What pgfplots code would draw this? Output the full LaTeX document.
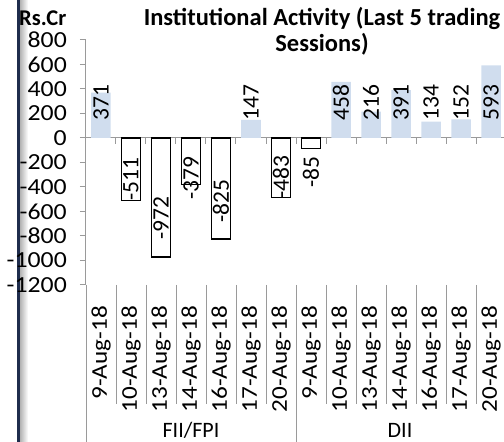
\documentclass[border=0pt]{standalone}
\usepackage{pgfplots}
\pgfplotsset{compat=1.18}
\usepackage{fontspec}
\setmainfont{Carlito}
\newfontfamily\widefont[FakeStretch=1.12]{Carlito}
\definecolor{barblue}{HTML}{D0DDEE}
\definecolor{axgray}{HTML}{9A9A9A}
\definecolor{navy}{HTML}{1F2D4D}
\pgfplotstableread{
x y
0 371
5 147
8 458
9 216
10 391
11 134
12 152
13 593
}\pos
\pgfplotstableread{
x y
1 -511
2 -972
3 -379
4 -825
6 -483
7 -85
}\neg
\begin{document}
\begin{tikzpicture}[x=1pt,y=1pt]
\useasboundingbox (0,0) rectangle (504,442);
\clip (0,0) rectangle (504,442);
\fill[navy] (16.5,0) rectangle (20,442);
\shade[left color=black!30, right color=white] (20,0) rectangle (28,442);
\begin{axis}[
  at={(86pt,157pt)}, anchor=south west,
  scale only axis, width=420pt, height=245pt,
  xmin=-0.5, xmax=13.5, ymin=-1200, ymax=800,
  separate axis lines,
  axis x line*=bottom, axis y line*=left,
  axis line style={-},
  x axis line style={draw=none},
  y axis line style={axgray, line width=1pt},
  xtick={0,...,13},
  xticklabels={9-Aug-18,10-Aug-18,13-Aug-18,14-Aug-18,16-Aug-18,17-Aug-18,20-Aug-18,9-Aug-18,10-Aug-18,13-Aug-18,14-Aug-18,16-Aug-18,17-Aug-18,20-Aug-18},
  major x tick style={draw=none},
  x tick label style={rotate=90, anchor=east, font=\widefont\fontsize{22.5}{24}\selectfont, inner sep=0pt},
  xticklabel shift=15pt,
  ytick={-1200,-1000,...,800},
  yticklabels={-1200,-1000,-800,-600,-400,-200,0,200,400,600,800},
  tick align=outside,
  major tick length=6pt,
  major y tick style={axgray, line width=1pt},
  y tick label style={font=\widefont\fontsize{23}{24}\selectfont, anchor=east, inner sep=0pt},
  yticklabel shift=13pt,
]
\draw[axgray, line width=1pt] (axis cs:-0.5,0) -- (axis cs:13.5,0);
\pgfplotsinvokeforeach{0,...,12}{\draw[axgray, line width=1pt] (axis cs:#1+0.5,0) -- ++(0pt,-6pt);}
\addplot[ybar, bar width=19.5pt, bar shift=0pt, fill=barblue, draw=none] table[x=x,y=y] {\pos};
\addplot[ybar, bar width=19.5pt, bar shift=0pt, fill=white, draw=black, line width=1.2pt] table[x=x,y=y] {\neg};
\begin{scope}[every node/.style={rotate=90, font=\fontsize{23.5}{25}\selectfont, inner sep=0pt}]
\node at (axis cs:0,290) {371};
\node at (axis cs:5,290) {147};
\node at (axis cs:8,290) {458};
\node at (axis cs:9,290) {216};
\node at (axis cs:10,290) {391};
\node at (axis cs:11,290) {134};
\node at (axis cs:12,290) {152};
\node at (axis cs:13,290) {593};
\node at (axis cs:1,-335) {-511};
\node at (axis cs:2,-653) {-972};
\node at (axis cs:3,-330) {-379};
\node at (axis cs:4,-518) {-825};
\node at (axis cs:6,-322) {-483};
\node at (axis cs:7,-278) {-85};
\end{scope}
\end{axis}
% category separators
\draw[axgray, line width=1pt] (86,157) -- (86,0);
\draw[axgray, line width=1pt] (296,157) -- (296,0);
\foreach \k in {116,146,176,206,236,266,326,356,386,416,446,476} {
  \draw[axgray, line width=1pt] (\k,157) -- (\k,38);
}
\node[anchor=base, inner sep=0pt, font=\fontsize{22}{24}\selectfont] at (191,4.5) {FII/FPI};
\node[anchor=base, inner sep=0pt, font=\fontsize{22}{24}\selectfont] at (400,4.5) {DII};
\node[anchor=base, inner sep=0pt, font=\bfseries\fontsize{24.5}{26}\selectfont] at (322,416) {Institutional Activity (Last 5 trading};
\node[anchor=base, inner sep=0pt, font=\bfseries\fontsize{24.5}{26}\selectfont] at (322,390) {Sessions)};
\node[anchor=base west, inner sep=0pt, font=\bfseries\fontsize{22.5}{24}\selectfont] at (19,416) {Rs.Cr};
\end{tikzpicture}
\end{document}
